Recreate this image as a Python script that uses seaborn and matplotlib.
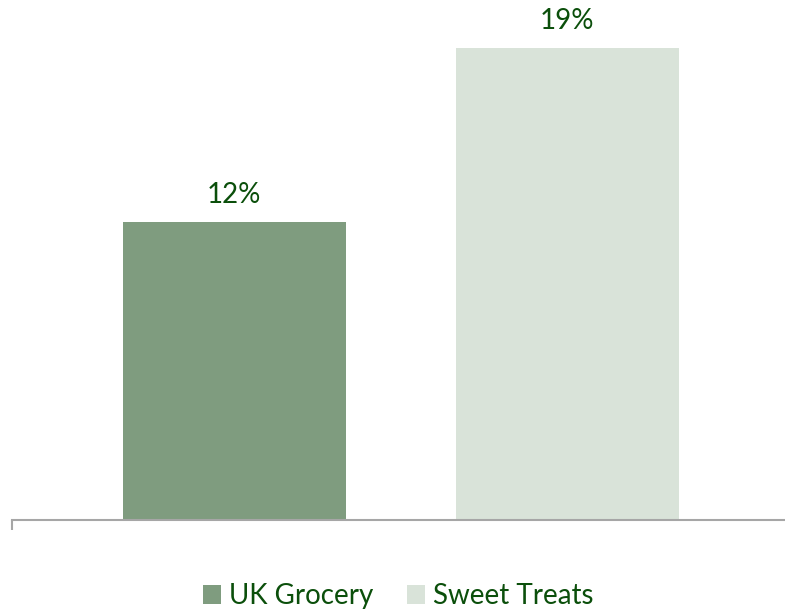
import matplotlib
matplotlib.use("Agg")
import matplotlib.pyplot as plt
import seaborn as sns
import pandas as pd

categories = ["UK Grocery", "Sweet Treats"]
values = [12, 19]
labels = ["12%", "19%"]
colors = ["#7f9c7f", "#d9e3d9"]

TEXT = "#0b4f0b"
AXIS = "#a6a6a6"

sns.set_theme(style="white")
plt.rcParams["font.family"] = ["Lato", "DejaVu Sans"]

W, H = 785, 611
fig = plt.figure(figsize=(W / 100, H / 100), dpi=100)
unit = 333.0
x0 = -0.667
x1 = 1.667
left_px = 12
bottom_px = 520
ymax = 20
ppu = 24.82
ax = fig.add_axes([left_px / W, 1 - bottom_px / H, (x1 - x0) * unit / W, ymax * ppu / H])

df = pd.DataFrame({"cat": categories, "val": values})
sns.barplot(data=df, x="cat", y="val", hue="cat", palette=colors,
            order=categories, hue_order=categories, width=0.67,
            dodge=False, legend=True, ax=ax, saturation=1, linewidth=0)

for i, (v, lab) in enumerate(zip(values, labels)):
    ax.annotate(lab, (i, v), xytext=(0, 10.5), textcoords="offset points",
                ha="center", va="bottom", fontsize=20, color=TEXT)

ax.set_xlim(x0, x1)
ax.set_ylim(0, ymax)
ax.set_xlabel("")
ax.set_ylabel("")
ax.set_yticks([])
ax.set_xticks([x0])
ax.set_xticklabels([""])
ax.tick_params(axis="x", length=7.5, width=1.5, color=AXIS, direction="out", bottom=True)
for s in ["top", "right", "left"]:
    ax.spines[s].set_visible(False)
ax.spines["bottom"].set_color(AXIS)
ax.spines["bottom"].set_linewidth(1.5)
ax.spines["bottom"].set_clip_on(False)

leg = ax.get_legend()
handles = leg.legend_handles
leg.remove()
fig.legend(handles, categories, loc="center", bbox_to_anchor=(398 / W, 1 - 596 / H),
           ncol=2, frameon=False, fontsize=20, handlelength=0.65, handleheight=0.65,
           handletextpad=0.3, columnspacing=1.2, labelcolor=TEXT)

fig.savefig("out.png", dpi=100)
